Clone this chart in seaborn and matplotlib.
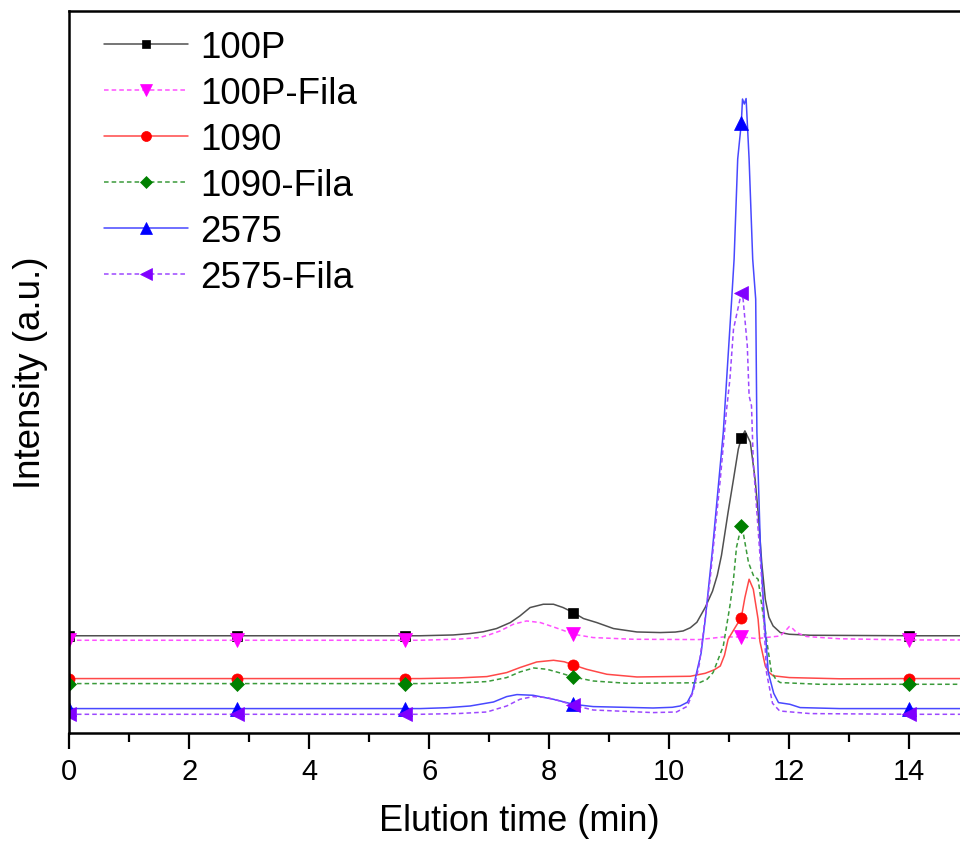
import numpy as np
import matplotlib
matplotlib.use("Agg")
import matplotlib.pyplot as plt
from matplotlib.lines import Line2D
import seaborn as sns

# Elution time (min) and detector response (a.u.) of each GPC trace
t_100p = [0, 2.8, 5.6, 5.85, 6.4, 6.68, 6.9, 7.12, 7.35, 7.51, 7.68, 7.9, 8.07, 8.23, 8.4, 8.57,
          8.79, 9.07, 9.46, 9.85, 10.1, 10.23, 10.35, 10.46, 10.6, 10.72, 10.8, 10.87, 10.98, 11.07,
          11.15, 11.2, 11.26, 11.35, 11.43, 11.48, 11.54, 11.6, 11.66, 11.73, 11.85, 12.0, 12.35,
          14.0, 15.0]
i_100p = [97.5, 97.5, 97.5, 97.5, 98.3, 99.7, 101.5, 104.7, 110.7, 117.3, 125.7, 129, 129, 125.7,
          120.7, 114.7, 110.7, 104.7, 101.3, 100.7, 101.2, 102.3, 105.5, 111, 126, 142, 158, 178,
          221, 254, 284, 295, 302.3, 291, 254, 221, 171, 134, 116, 107.3, 100.7, 99, 98,
          97.5, 97.5]

t_100p_fila = [0, 2.8, 5.6, 5.85, 6.5, 6.84, 7.0, 7.18, 7.4, 7.62, 7.85, 8.07, 8.25, 8.4, 8.73,
               9.4, 10.5, 10.9, 11.2, 11.46, 11.85, 11.93, 12.0, 12.06, 12.12, 12.29, 12.84,
               14.0, 15.0]
i_100p_fila = [93, 93, 93, 93, 94.2, 95.7, 98.5, 102.3, 109, 112.3, 110.7, 106.3, 102.5, 99,
               95.7, 94, 93.7, 96.3, 96.3, 94.7, 97.3, 102, 106.7, 104.5, 100.7, 96.7, 94.5,
               93.3, 93.3]

t_1090 = [0, 2.8, 5.6, 5.85, 6.5, 6.96, 7.29, 7.51, 7.79, 8.07, 8.25, 8.4, 8.62, 8.96, 9.46,
          10.35, 10.6, 10.75, 10.85, 10.92, 10.98, 11.1, 11.2, 11.26, 11.33, 11.4, 11.48, 11.51,
          11.6, 11.66, 11.73, 12.0, 12.84, 14.0, 15.0]
i_1090 = [54.7, 54.7, 54.7, 54.7, 55.4, 56.7, 60.7, 65.7, 71.3, 73, 71.5, 68.3, 64, 59, 56.3,
          57, 60, 63.5, 67.3, 78, 94, 106, 115.7, 135.7, 154, 144, 114, 92,
          67.3, 61, 57.5, 55.7, 54.5, 54.7, 54.7]

t_1090_fila = [0, 2.8, 5.6, 5.85, 6.5, 6.96, 7.29, 7.51, 7.74, 7.96, 8.2, 8.4, 8.73, 9.29,
               10.5, 10.63, 10.73, 10.9, 11.01, 11.07, 11.12, 11.2, 11.23, 11.32, 11.4, 11.48,
               11.55, 11.62, 11.7, 11.78, 11.85, 12.5, 14.0, 15.0]
i_1090_fila = [49.7, 49.7, 49.7, 49.7, 50.4, 51.7, 55.7, 61.3, 65.3, 64, 60, 56.3, 52.3, 50,
               50.5, 54, 60.7, 87.3, 127.3, 154, 186, 207, 201, 170.7, 158, 154,
               124, 94, 62, 53.5, 50.7, 49, 49, 49]

t_2575 = [0, 2.8, 5.6, 5.85, 6.3, 6.68, 7.07, 7.29, 7.46, 7.73, 8.07, 8.4, 8.73, 9.73, 10.05,
          10.18, 10.3, 10.38, 10.46, 10.53, 10.6, 10.72, 10.9, 11.04, 11.08, 11.14, 11.2, 11.22,
          11.25, 11.28, 11.33, 11.39, 11.44, 11.46, 11.52, 11.58, 11.65, 11.74, 11.82, 12.01,
          12.18, 12.84, 14.0, 15.0]
i_2575 = [24.7, 24.7, 24.7, 24.7, 25.6, 27.3, 31.3, 36.7, 38.7, 38, 34, 29, 26.7, 25.3, 26,
          27.3, 31, 40, 62, 80, 114, 184, 301, 434, 474, 574, 610, 634,
          629, 634.5, 574, 474, 434, 301, 184, 119, 60.7, 40, 30.7, 29,
          25.7, 24.7, 24.7, 24.7]

t_2575_fila = [0, 2.8, 5.6, 5.85, 6.5, 6.96, 7.29, 7.51, 7.73, 7.96, 8.2, 8.4, 8.73, 9.73,
               10.12, 10.3, 10.4, 10.5, 10.68, 10.85, 10.95, 11.01, 11.07, 11.2, 11.23, 11.3,
               11.33, 11.37, 11.4, 11.48, 11.54, 11.62, 11.72, 11.84, 12.35, 14.0, 15.0]
i_2575_fila = [19, 19, 19, 19, 19.8, 21.3, 27.3, 34, 36.7, 35.7, 32, 28, 23.3, 20.7,
               21.3, 27, 42, 69, 154, 254, 321, 354, 404, 440, 434, 387.3,
               337.3, 327.3, 270.7, 204, 154, 60.7, 30, 22.3, 19.7, 19, 19]

labels = ["100P", "100P-Fila", "1090", "1090-Fila", "2575", "2575-Fila"]
marker_times = [0, 2.8, 5.6, 8.4, 11.2, 14.0]
x_ticks = [0, 2, 4, 6, 8, 10, 12, 14]

dash = (0, (3, 2))
styles = [
    dict(t=t_100p, y=i_100p, color="#000000", line="#505050", ls="-", marker="s", ms=7),
    dict(t=t_100p_fila, y=i_100p_fila, color="#FF00FF", line="#FF50FF", ls=dash, marker="v", ms=9.5),
    dict(t=t_1090, y=i_1090, color="#FF0000", line="#FF4848", ls="-", marker="o", ms=8),
    dict(t=t_1090_fila, y=i_1090_fila, color="#008000", line="#3A9A3A", ls=dash, marker="D", ms=7),
    dict(t=t_2575, y=i_2575, color="#0000FF", line="#4848FF", ls="-", marker="^", ms=9.5),
    dict(t=t_2575_fila, y=i_2575_fila, color="#8000FF", line="#9C48FF", ls=dash, marker="<", ms=9.5),
]

sns.set_theme(style="white", rc={"text.color": "black", "axes.labelcolor": "black",
                                 "xtick.color": "black", "ytick.color": "black",
                                 "axes.edgecolor": "black"})
plt.rcParams["font.family"] = ["Liberation Sans", "DejaVu Sans"]

fig = plt.figure(figsize=(9.6, 8.45), dpi=100)
ax = fig.add_axes([69.3 / 960, (845 - 734.3) / 845, 900 / 960, 722.3 / 845])

handles = []
for lab, s in zip(labels, styles):
    t = np.asarray(s["t"], dtype=float)
    y = np.asarray(s["y"], dtype=float)
    idx = np.flatnonzero(np.isin(np.round(t, 2), marker_times)).tolist()
    sns.lineplot(x=t, y=y, ax=ax, estimator=None, errorbar=None, sort=False, legend=False,
                 color=s["line"], linestyle=s["ls"], linewidth=1.1,
                 marker=s["marker"], markersize=s["ms"], markevery=idx,
                 markerfacecolor=s["color"], markeredgecolor=s["color"],
                 markeredgewidth=0.5)
    handles.append(Line2D([0], [0], color=s["line"], linestyle=s["ls"], linewidth=1.1,
                          marker=s["marker"], markersize=s["ms"] * 0.9,
                          markerfacecolor=s["color"], markeredgecolor=s["color"],
                          markeredgewidth=0.5, label=lab))

ax.set_xlim(0, 15)
ax.set_ylim(0, 722)
ax.set_xticks(x_ticks)
ax.set_xticks(np.arange(1, 15, 2), minor=True)
ax.set_yticks([])

for sp in ax.spines.values():
    sp.set_visible(True)
    sp.set_linewidth(1.8)
    sp.set_color("black")

ax.tick_params(axis="x", which="both", direction="out", bottom=True, top=False,
               width=1.6, color="black")
ax.tick_params(axis="x", which="major", length=11.5, labelsize=21, pad=5.5)
ax.tick_params(axis="x", which="minor", length=6.5)

ax.set_xlabel("Elution time (min)", fontsize=26, labelpad=13)
ax.set_ylabel("Intensity (a.u.)", fontsize=26.5, labelpad=15)

ax.legend(handles=handles, loc="upper left", bbox_to_anchor=(104 / 960, 1 - 30.7 / 845),
          bbox_transform=fig.transFigure, frameon=False, fontsize=26.5,
          handlelength=2.28, handletextpad=0.33, labelspacing=0.3,
          borderpad=0, borderaxespad=0, numpoints=1)

fig.savefig("out.png", dpi=100)
